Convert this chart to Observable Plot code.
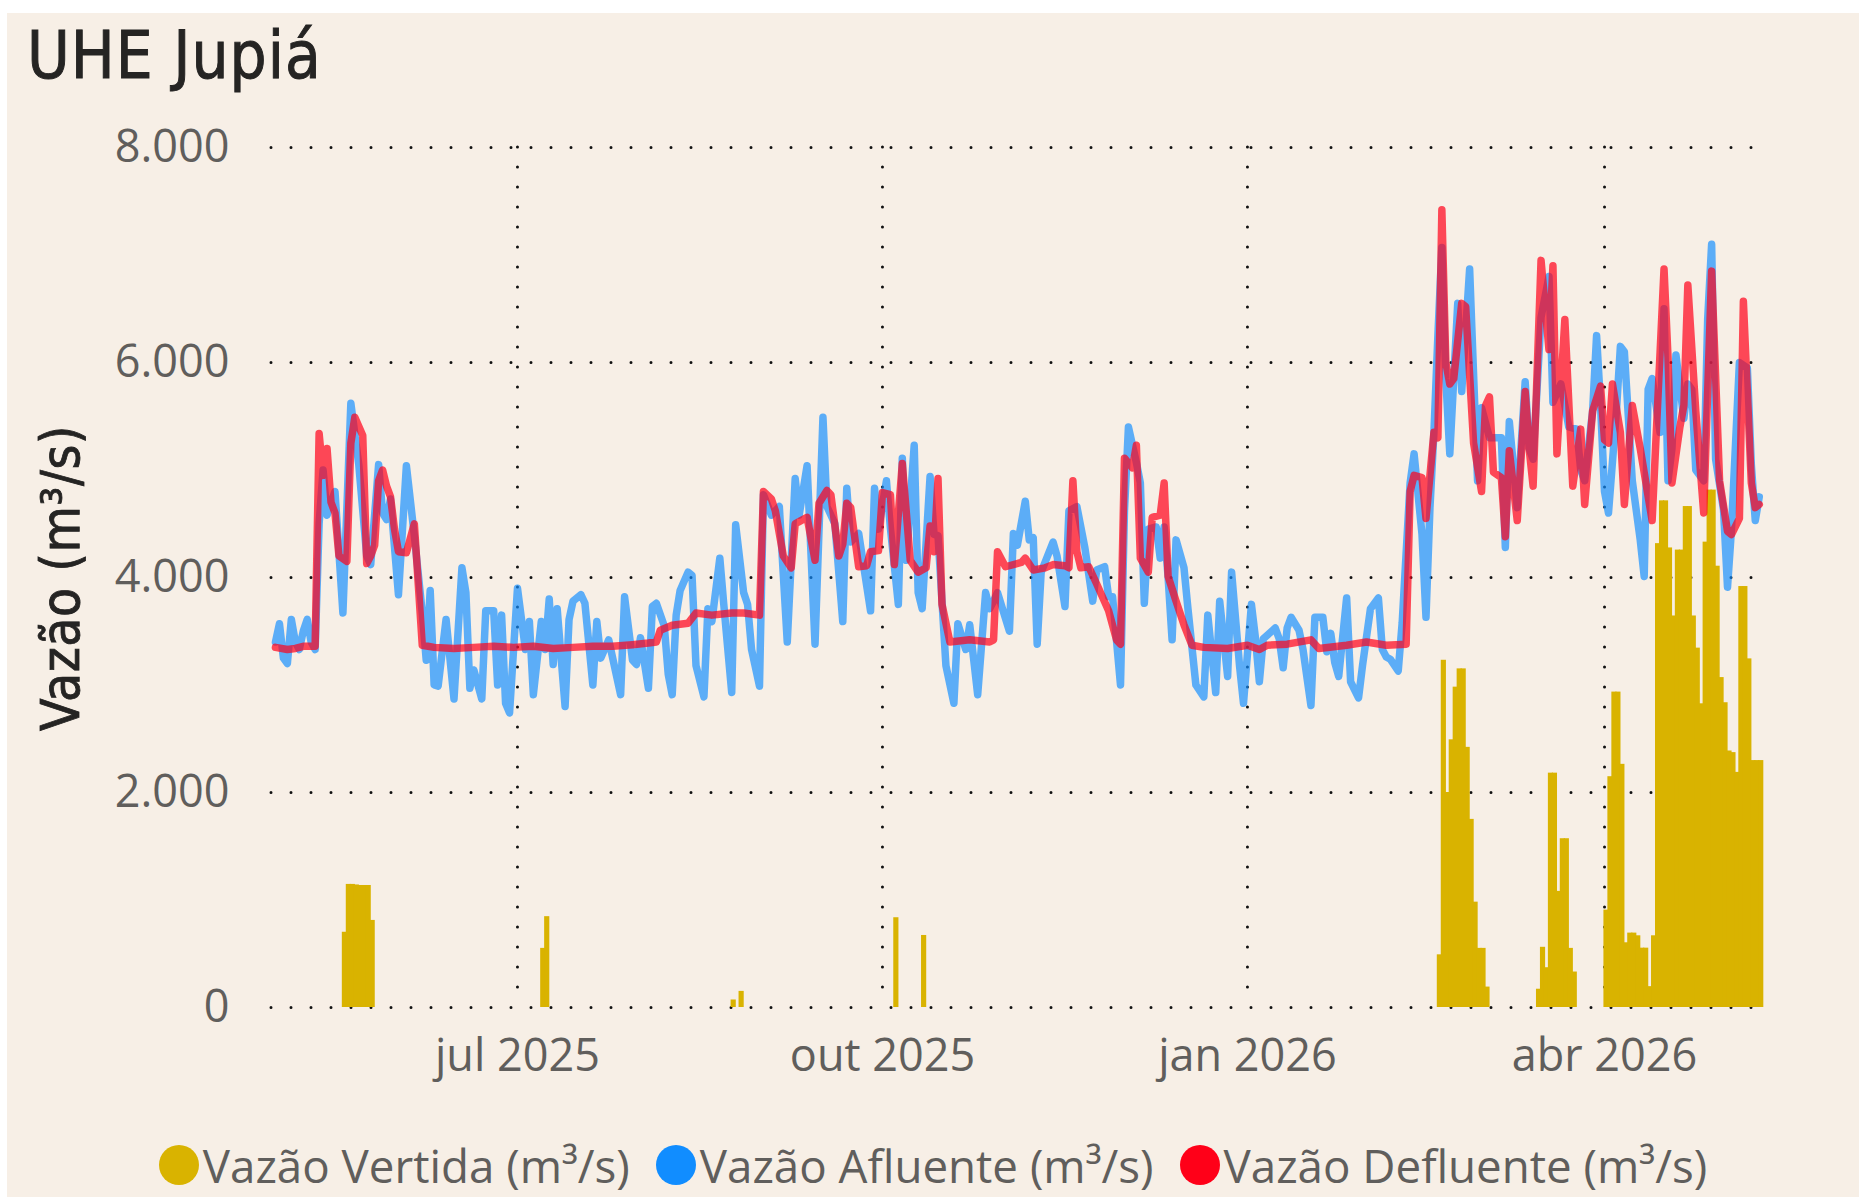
<!DOCTYPE html>
<html lang="pt-BR">
<head>
<meta charset="utf-8">
<script src="https://cdn.jsdelivr.net/npm/d3@7"></script>
<script src="https://cdn.jsdelivr.net/npm/@observablehq/plot@0.6"></script>
<style>
html, body { margin:0; padding:0; width:1869px; height:1197px; overflow:hidden; background:#ffffff; }
#card { position:absolute; left:7px; top:13px; width:1852px; height:1184px; background:#f7efe6; }
#title { position:absolute; left:27px; top:23px; font-family:"DejaVu Sans Condensed","DejaVu Sans",sans-serif; font-stretch:condensed; font-size:65px; line-height:65px; letter-spacing:1px; -webkit-text-stroke:0.9px #252423; color:#252423; white-space:nowrap; }
#ytitle { position:absolute; left:60px; top:578px; transform:translate(-50%,-50%) rotate(-90deg); font-family:"DejaVu Sans Condensed","DejaVu Sans",sans-serif; font-stretch:condensed; font-size:53px; line-height:53px; letter-spacing:0.5px; -webkit-text-stroke:0.8px #252423; color:#252423; white-space:nowrap; }
#chart { position:absolute; left:0; top:0; }
#legend { position:absolute; left:7px; width:1852px; top:1142px; height:46px; display:flex; justify-content:center; align-items:center; gap:26px; font-family:"Open Sans",sans-serif; font-size:45.7px; line-height:46px; color:#605e5c; white-space:nowrap; }
.item { display:flex; align-items:center; }
.dot { width:40px; height:40px; border-radius:50%; margin-right:4px; flex:none; }
</style>
</head>
<body>
<div id="card"></div>
<div id="title">UHE Jupiá</div>
<div id="ytitle">Vazão (m³/s)</div>
<div id="chart"></div>
<div id="legend"></div>
<script>
// ---- data: [day offset from 2025-05-01, m³/s] ----
const startDate = "2025-05-01";

const afluente = [
[0,3400],[1,3570],[2,3250],[3,3200],[4,3610],[5,3400],[6,3330],[7,3500],[8,3610],[9,3400],[10,3330],[11,4500],[12,5000],[13,4580],[14,4700],[15,4800],[17,3670],[19,5620],[21,5050],[23,4200],[24,4120],[26,5050],[27,4600],[28,4540],[29,4730],[31,3840],[33,5040],[35,4390],[37,3670],[38,3230],[39,3880],[40,3000],[41,2990],[43,3610],[45,2870],[47,4090],[48,3860],[49,2970],[50,3140],[52,2870],[53,3690],[55,3690],[56,3000],[57,3650],[58,2830],[59,2740],[61,3900],[63,3330],[64,3590],[65,2910],[67,3590],[68,3330],[69,3800],[70,3190],[71,3710],[73,2800],[74,3610],[75,3780],[77,3840],[78,3760],[80,3000],[81,3590],[82,3250],[84,3420],[87,2910],[88,3820],[90,3230],[91,3190],[92,3440],[94,2970],[95,3730],[96,3760],[98,3550],[99,3100],[100,2910],[101,3650],[102,3880],[104,4050],[105,4020],[106,3180],[108,2890],[109,3710],[110,3590],[112,4180],[113,3750],[115,2930],[116,4490],[118,3860],[119,3750],[120,3330],[122,2990],[123,4770],[125,4580],[127,4660],[129,3400],[131,4920],[132,4580],[134,5040],[136,3380],[138,5490],[139,4660],[141,4500],[143,3590],[144,4830],[145,4330],[147,4410],[150,3690],[151,4830],[152,4450],[154,4900],[155,4460],[157,3750],[158,5110],[159,4160],[161,5230],[162,3860],[163,3710],[165,4940],[166,4400],[167,4390],[169,3180],[171,2830],[172,3570],[174,3330],[175,3560],[177,2910],[179,3860],[180,3710],[181,3780],[182,3860],[185,3500],[186,4410],[187,4300],[189,4710],[190,4350],[191,4370],[192,3380],[193,4050],[196,4330],[197,4200],[199,3730],[200,4620],[202,4660],[204,4280],[206,3780],[207,4070],[209,4100],[210,3820],[211,3820],[213,3000],[214,4620],[215,5400],[217,5070],[218,4880],[219,3760],[220,4450],[222,4470],[223,4180],[224,4470],[225,4000],[226,3420],[227,4350],[229,4090],[230,3710],[232,3000],[234,2890],[235,3650],[237,2930],[238,3780],[240,3080],[241,4050],[243,3180],[244,2830],[246,3750],[247,3440],[248,3030],[249,3430],[252,3530],[253,3430],[254,3160],[255,3530],[256,3630],[258,3510],[259,3330],[261,2810],[262,3630],[264,3630],[265,3310],[266,3480],[267,3210],[268,3080],[270,3810],[271,3030],[273,2880],[274,3180],[276,3710],[278,3810],[279,3330],[280,3260],[281,3240],[283,3130],[284,3580],[286,4880],[287,5150],[289,4400],[290,3630],[291,4650],[292,5350],[293,6250],[294,7070],[295,5850],[296,5150],[298,6550],[299,5730],[301,6870],[303,4900],[304,5580],[306,5300],[309,5300],[310,4280],[311,5450],[313,4650],[315,5820],[316,5200],[317,5100],[319,6420],[321,6800],[322,5630],[324,5800],[326,5400],[328,5380],[329,5000],[330,4900],[332,5550],[333,6250],[334,5600],[335,4800],[336,4600],[338,5550],[339,6150],[340,6100],[342,4900],[344,4350],[345,4010],[346,5750],[347,5850],[349,5350],[350,6500],[351,4900],[352,5200],[353,6070],[355,5480],[356,5800],[357,5750],[358,5000],[360,4900],[361,6400],[362,7100],[363,5100],[365,4630],[366,3910],[367,4450],[369,6000],[371,5950],[372,5050],[373,4530],[374,4750]
];

const defluente = [
[0,3350],[3,3330],[5,3340],[7,3360],[10,3360],[11,5340],[12,4950],[13,5200],[14,4700],[15,4600],[16,4200],[18,4150],[19,5250],[20,5490],[22,5320],[23,4130],[24,4200],[25,4300],[26,4900],[27,5000],[28,4850],[29,4750],[30,4450],[31,4240],[33,4230],[35,4500],[37,3370],[40,3350],[45,3340],[50,3350],[55,3360],[60,3350],[65,3360],[70,3340],[75,3350],[80,3360],[85,3360],[90,3375],[94,3390],[96,3400],[97,3510],[100,3555],[104,3575],[106,3670],[110,3650],[115,3670],[118,3670],[122,3650],[123,4800],[125,4730],[126,4620],[128,4200],[130,4090],[131,4500],[132,4520],[134,4560],[136,4160],[137,4690],[139,4810],[140,4770],[142,4200],[143,4310],[144,4690],[145,4650],[147,4100],[149,4110],[150,4240],[152,4250],[153,4790],[155,4770],[156,4120],[158,5060],[160,4160],[162,4050],[164,4090],[165,4480],[166,4240],[167,4920],[168,3750],[170,3400],[175,3420],[180,3400],[181,3420],[182,4240],[184,4100],[188,4140],[189,4180],[191,4070],[194,4090],[196,4120],[199,4110],[200,4090],[201,4900],[202,4240],[203,4090],[205,4100],[207,3940],[210,3690],[212,3420],[213,3380],[214,5110],[216,5020],[217,5230],[218,4180],[220,4050],[221,4560],[223,4580],[224,4880],[225,4010],[227,3780],[229,3560],[231,3370],[234,3350],[240,3340],[245,3370],[248,3330],[250,3370],[255,3380],[261,3420],[263,3340],[270,3370],[275,3400],[280,3370],[285,3380],[286,4800],[287,4950],[289,4930],[290,4550],[292,5350],[293,5300],[294,7420],[295,6000],[296,5800],[297,5850],[299,6550],[300,6520],[302,5250],[304,4800],[305,5600],[306,5680],[307,4980],[309,4930],[310,4380],[311,5180],[313,4530],[315,5730],[316,5200],[317,4850],[319,6950],[321,6120],[322,6900],[323,5150],[325,6400],[327,4850],[329,5380],[330,4680],[332,5550],[334,5780],[335,5280],[336,5250],[337,5800],[339,5350],[340,4680],[342,5600],[344,5200],[347,4530],[350,6870],[351,6050],[352,4880],[354,5400],[355,5600],[356,6720],[358,5550],[360,4600],[362,6850],[364,4900],[366,4430],[367,4400],[369,4550],[370,6570],[372,4880],[373,4650],[374,4680]
];

const vertida = [
[17,700],[18,1145],[19,1145],[20,1140],[21,1135],[22,1135],[23,1135],[24,810],[67,550],[68,845],[115,70],[117,150],[156,835],[163,670],
[293,490],[294,3230],[295,2000],[296,2490],[297,2980],[298,3150],[299,3150],[300,2420],[301,1750],[302,980],[303,550],[304,550],[305,190],
[318,170],[319,560],[320,370],[321,2180],[322,2180],[323,1080],[324,1570],[325,1570],[326,550],[327,330],
[335,906],[336,2147],[337,2934],[338,2934],[339,2262],[340,602],[341,692],[342,692],[343,667],[344,552],[345,552],[346,194],[347,667],[348,4315],[349,4713],[350,4713],[351,4275],[352,3642],[353,4255],[354,4255],[355,4660],[356,4660],[357,3642],[358,3343],[359,2825],[360,4329],[361,4813],[362,4813],[363,4105],[364,3069],[365,2835],[366,2386],[367,2371],[368,2187],[369,3916],[370,3916],[371,3243],[372,2297],[373,2297],[374,2297]
];

const xTickDates = ["2025-07-01", "2025-10-01", "2026-01-01", "2026-04-01"];
const xTickLabels = ["jul 2025", "out 2025", "jan 2026", "abr 2026"];
const yTicks = [0, 2000, 4000, 6000, 8000];
const xDomain = ["2025-04-30T00:00Z", "2026-05-08T07:12Z"];

const series = [
  {name: "Vazão Vertida (m³/s)", color: "#D9B300"},
  {name: "Vazão Afluente (m³/s)", color: "#118DFF"},
  {name: "Vazão Defluente (m³/s)", color: "#FF0018"}
];

// ---- build rows ----
const DAY = 864e5;
const t0 = Date.parse(startDate + "T00:00Z");
const toDate = d => new Date(t0 + d * DAY);
const rows = arr => arr.map(([d, v]) => ({date: toDate(d), date2: toDate(d + 1), v}));
const afluenteRows = rows(afluente);
const defluenteRows = rows(defluente);
const vertidaRows = rows(vertida);
const ticks = xTickDates.map(s => new Date(s + "T00:00Z"));
const labelMap = new Map(ticks.map((t, i) => [+t, xTickLabels[i]]));
const fmt = d3.formatLocale({decimal: ",", thousands: ".", grouping: [3], currency: ["R$ ", ""]}).format(",.0f");

const grid = {stroke: "#111", strokeWidth: 3, strokeDasharray: "0,20", strokeLinecap: "round"};

const chart = Plot.plot({
  width: 1869,
  height: 1100,
  marginLeft: 271,
  marginRight: 117,
  marginTop: 147,
  marginBottom: 93,
  style: {background: "transparent", fontFamily: "'Open Sans', sans-serif", fontSize: "45px", color: "#605e5c", overflow: "visible"},
  x: {type: "utc", domain: xDomain.map(s => new Date(s)), ticks: ticks, tickFormat: d => labelMap.get(+d), tickSize: 0, tickPadding: 32, label: null},
  y: {domain: [0, 8000], ticks: yTicks, tickFormat: fmt, tickSize: 0, tickPadding: 42, label: null},
  marks: [
    Plot.ruleY(yTicks, grid),
    Plot.ruleX(ticks, grid),
    Plot.rectY(vertidaRows, {x1: "date", x2: "date2", y: "v", fill: series[0].color, insetLeft: -0.6, insetRight: -0.6}),
    Plot.line(afluenteRows, {x: "date", y: "v", stroke: series[1].color, strokeWidth: 7.5, strokeOpacity: 0.68, strokeLinejoin: "round", strokeLinecap: "round"}),
    Plot.line(defluenteRows, {x: "date", y: "v", stroke: series[2].color, strokeWidth: 7.5, strokeOpacity: 0.7, strokeLinejoin: "round", strokeLinecap: "round"})
  ]
});
document.getElementById("chart").appendChild(chart);

const legend = document.getElementById("legend");
for (const s of series) {
  const item = document.createElement("div");
  item.className = "item";
  const dot = document.createElement("span");
  dot.className = "dot";
  dot.style.background = s.color;
  const txt = document.createElement("span");
  txt.textContent = s.name;
  item.appendChild(dot);
  item.appendChild(txt);
  legend.appendChild(item);
}
</script>
</body>
</html>
